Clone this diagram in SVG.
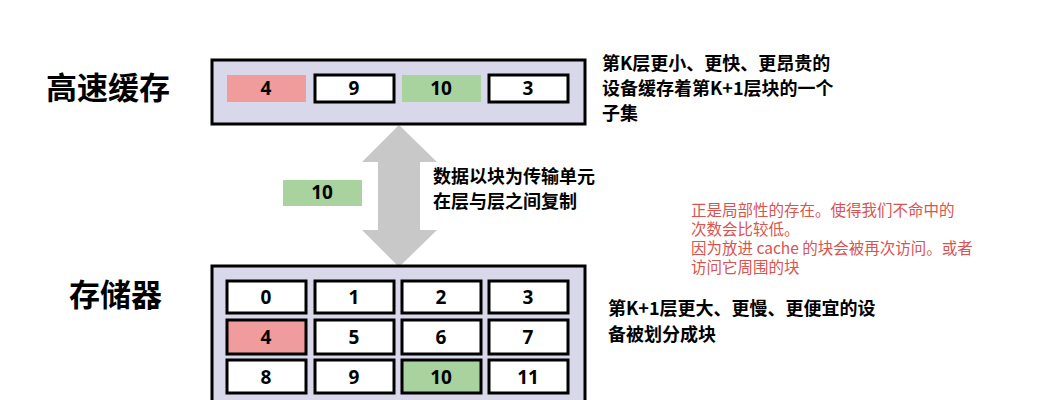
<svg xmlns="http://www.w3.org/2000/svg" width="1045" height="400" viewBox="0 0 1045 400">
<style>
.c{fill:#fff;stroke:#000;stroke-width:3}
.r{fill:#f19c9c}
.g{fill:#a9d39e}
.n{font-family:"Noto Sans","Liberation Sans",sans-serif;font-weight:bold;font-size:19px;text-anchor:middle}
.t{font-family:"Noto Sans CJK SC",sans-serif;font-weight:bold;font-size:18px}
.h{font-family:"Noto Sans CJK SC",sans-serif;font-weight:bold;font-size:31px}
.red{font-family:"Noto Sans CJK SC",sans-serif;font-size:15.5px;fill:#d9534f}
</style>
<rect width="1045" height="400" fill="#fff"/>
<g id="connectors">
<polygon points="399,125 437,162 420,162 420,230 437,230 399,267 362,230 378,230 378,162 362,162" fill="#c8c8c8"/>
</g>
<g id="cache">
<text class="h" x="46" y="99">高速缓存</text>
<rect x="212" y="60" width="373" height="64" fill="#d9d7ea" stroke="#000" stroke-width="3"/>
<rect class="r" x="227" y="75" width="79" height="27"/><text class="n" x="266" y="95">4</text>
<rect class="c" x="315" y="75" width="79" height="27"/><text class="n" x="354" y="95">9</text>
<rect class="g" x="402" y="75" width="79" height="27"/><text class="n" x="441" y="95">10</text>
<rect class="c" x="489" y="75" width="79" height="27"/><text class="n" x="528" y="95">3</text>
</g>
<g id="cache-note">
<text class="t" x="602" y="70">第K层更小、更快、更昂贵的</text>
<text class="t" x="602" y="95">设备缓存着第K+1层块的一个</text>
<text class="t" x="602" y="120">子集</text>
</g>
<g id="transfer">
<rect class="g" x="283" y="180" width="79" height="26"/><text class="n" x="322" y="199">10</text>
<text class="t" x="433" y="183">数据以块为传输单元</text>
<text class="t" x="433" y="208">在层与层之间复制</text>
</g>
<g id="memory">
<text class="h" x="69" y="306">存储器</text>
<rect x="212" y="266" width="373" height="140" fill="#d9d7ea" stroke="#000" stroke-width="3"/>
<rect class="c" x="227" y="281" width="79" height="32"/><text class="n" x="266" y="304">0</text>
<rect class="c" x="315" y="281" width="79" height="32"/><text class="n" x="354" y="304">1</text>
<rect class="c" x="402" y="281" width="79" height="32"/><text class="n" x="441" y="304">2</text>
<rect class="c" x="489" y="281" width="79" height="32"/><text class="n" x="528" y="304">3</text>
<rect class="c" x="227" y="320" width="79" height="34" style="fill:#f19c9c"/><text class="n" x="266" y="344">4</text>
<rect class="c" x="315" y="320" width="79" height="34"/><text class="n" x="354" y="344">5</text>
<rect class="c" x="402" y="320" width="79" height="34"/><text class="n" x="441" y="344">6</text>
<rect class="c" x="489" y="320" width="79" height="34"/><text class="n" x="528" y="344">7</text>
<rect class="c" x="227" y="360" width="79" height="33"/><text class="n" x="266" y="384">8</text>
<rect class="c" x="315" y="360" width="79" height="33"/><text class="n" x="354" y="384">9</text>
<rect class="c" x="402" y="360" width="79" height="33" style="fill:#a9d39e"/><text class="n" x="441" y="384">10</text>
<rect class="c" x="489" y="360" width="79" height="33"/><text class="n" x="528" y="384">11</text>
</g>
<g id="memory-note">
<text class="t" x="608" y="315">第K+1层更大、更慢、更便宜的设</text>
<text class="t" x="608" y="341">备被划分成块</text>
</g>
<g id="comment">
<text class="red" x="691" y="216">正是局部性的存在。使得我们不命中的</text>
<text class="red" x="691" y="235">次数会比较低。</text>
<text class="red" x="691" y="254">因为放进 cache 的块会被再次访问。或者</text>
<text class="red" x="691" y="273">访问它周围的块</text>
</g>
</svg>
